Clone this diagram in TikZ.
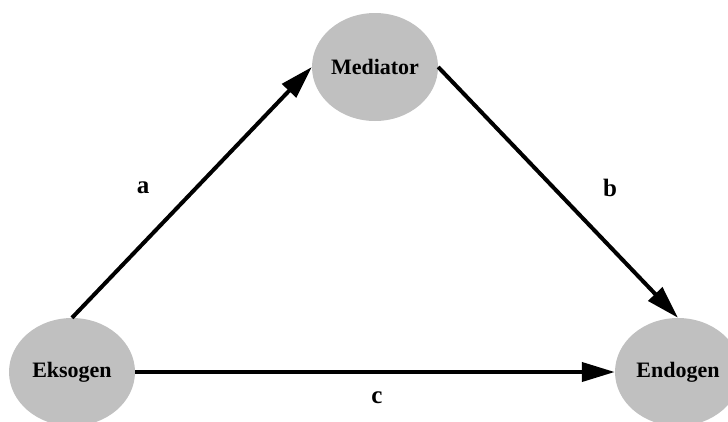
\documentclass[tikz,border=0pt]{standalone}
\usepackage{fontspec}
\setmainfont{Liberation Serif}
\definecolor{nodegrey}{HTML}{C0C0C0}
\usepackage{tikz}
\usetikzlibrary{arrows.meta,shapes.geometric}

\begin{document}
\begin{tikzpicture}[x=1pt,y=-1pt,
  var/.style={ellipse,fill=nodegrey,minimum width=126pt,minimum height=108pt,inner sep=0pt,font=\fontsize{22}{25}\selectfont\bfseries},
  arr/.style={-{Triangle[length=33pt,width=19pt]},line width=4pt},
  lab/.style={font=\fontsize{25}{29}\selectfont\bfseries,inner sep=0pt}]
\useasboundingbox (0,0) rectangle (728,421);
\node[var] (med) at (375,67) {Mediator};
\node[var] (eks) at (72,372) {Eksogen};
\node[var] (endo) at (678,372) {Endogen};
\draw[arr] (eks.north) -- (med.west);
\draw[arr] (med.east) -- (endo.north);
\draw[arr] (eks.east) -- (endo.west);
\node[lab] (la) at (143,188) {a};
\node[lab] (lb) at (610,188) {b};
\node[lab] (lc) at (377,398) {c};
\end{tikzpicture}
\end{document}
